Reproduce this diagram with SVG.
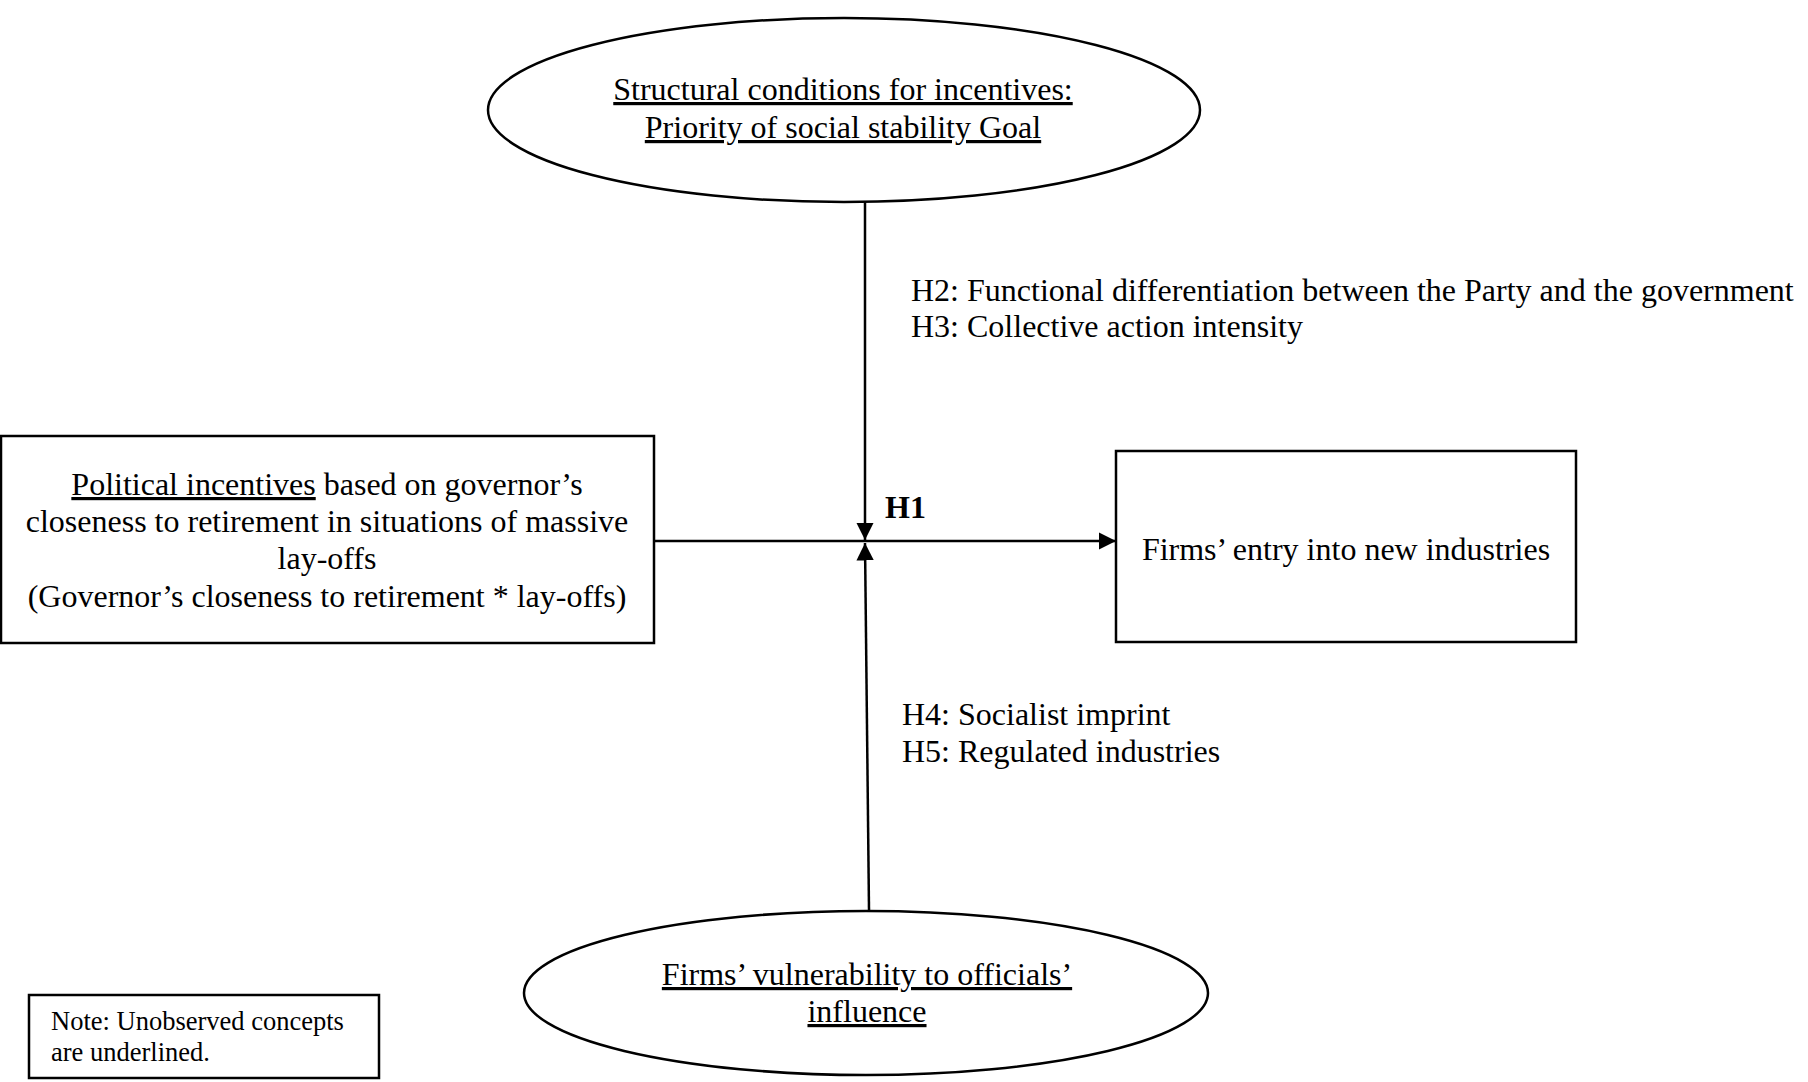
<svg xmlns="http://www.w3.org/2000/svg" width="1808" height="1082" viewBox="0 0 1808 1082">
<style>
.t{font-family:"Liberation Serif","Times New Roman",serif;font-size:32px;fill:#000}
.c{text-anchor:middle}
.u{text-decoration:underline}
.b{font-weight:bold}
.n{font-size:26.5px}
.shape{fill:#fff;stroke:#000;stroke-width:2.5}
.line{fill:none;stroke:#000;stroke-width:2.5}
</style>
<defs>
<marker id="ah" viewBox="0 0 10 10" refX="10" refY="5" markerWidth="7" markerHeight="7" orient="auto" markerUnits="strokeWidth">
<path d="M0,0 L10,5 L0,10 z" fill="#000"/>
</marker>
</defs>
<rect width="1808" height="1082" fill="#fff"/>
<g id="connectors">
<line class="line" x1="865" y1="202" x2="865" y2="540" marker-end="url(#ah)"/>
<line class="line" x1="869" y1="910" x2="865" y2="543" marker-end="url(#ah)"/>
<line class="line" x1="654" y1="541" x2="1116" y2="541" marker-end="url(#ah)"/>
<text class="t b" x="885" y="518">H1</text>
<text class="t" x="911" y="301">H2: Functional differentiation between the Party and the government</text>
<text class="t" x="911" y="337">H3: Collective action intensity</text>
<text class="t" x="902" y="725">H4: Socialist imprint</text>
<text class="t" x="902" y="762">H5: Regulated industries</text>
</g>
<g id="structural">
<ellipse class="shape" cx="844" cy="110" rx="356" ry="92"/>
<text class="t c u" x="843" y="100">Structural conditions for incentives:</text>
<text class="t c u" x="843" y="138">Priority of social stability Goal</text>
</g>
<g id="political">
<rect class="shape" x="1" y="436" width="653" height="207"/>
<text class="t c" x="327" y="495"><tspan class="u">Political incentives</tspan> based on governor’s</text>
<text class="t c" x="327" y="532">closeness to retirement in situations of massive</text>
<text class="t c" x="327" y="569">lay-offs</text>
<text class="t c" x="327" y="607">(Governor’s closeness to retirement * lay-offs)</text>
</g>
<g id="entry">
<rect class="shape" x="1116" y="451" width="460" height="191"/>
<text class="t c" x="1346" y="560">Firms’ entry into new industries</text>
</g>
<g id="vulnerability">
<ellipse class="shape" cx="866" cy="993" rx="342" ry="82"/>
<text class="t c u" x="867" y="985">Firms’ vulnerability to officials’</text>
<text class="t c u" x="867" y="1022">influence</text>
</g>
<g id="note">
<rect class="shape" x="29" y="995" width="350" height="83"/>
<text class="t n" x="51" y="1030">Note: Unobserved concepts</text>
<text class="t n" x="51" y="1061">are underlined.</text>
</g>
</svg>
